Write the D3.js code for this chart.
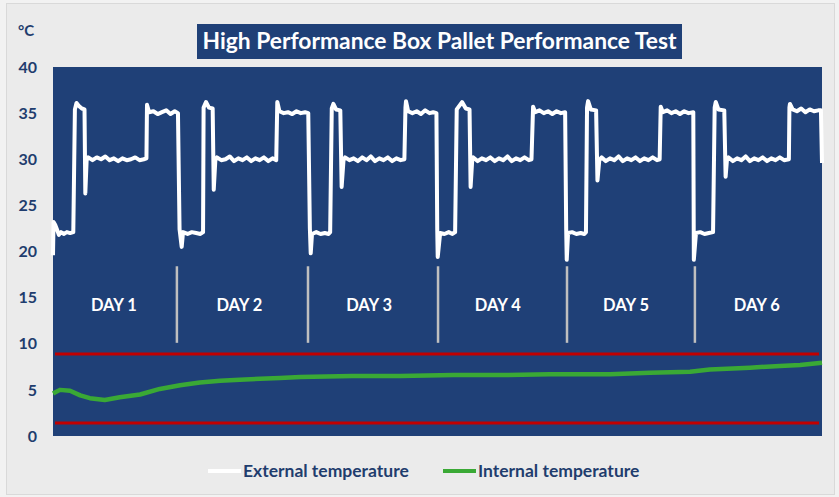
<!DOCTYPE html>
<html>
<head>
<meta charset="utf-8">
<script src="https://cdn.jsdelivr.net/npm/d3@7"></script>
<style>
body { margin: 0; background: #f2f2f2; }
svg { display: block; font-family: Lato, "Open Sans", sans-serif; font-weight: bold; }
</style>
</head>
<body>
<div id="chart"></div>
<script>
// data (x = hours since start, y = degC)
var external = [
  [0.0,19.6],[0.1,23.2],[0.4,22.9],[0.8,22.3],[1.1,21.8],[1.5,22.1],[2.0,21.9],[2.6,22.1],[3.2,22.0],[3.8,22.1],
  [4.1,35.4],[4.4,36.1],[4.8,35.8],[5.4,35.5],[5.9,35.4],[6.05,26.3],[6.3,29.9],[6.6,30.2],[7.4,29.9],[8.2,30.2],
  [9.0,30.0],[9.8,30.3],[10.6,29.9],[11.4,30.1],[12.2,29.8],[13.0,30.1],[13.8,29.9],[14.6,30.0],[15.4,30.2],[16.2,29.9],
  [17.0,30.0],[17.5,30.1],[17.6,35.9],[18.0,35.1],[18.8,35.2],[19.6,34.9],[20.4,35.1],[21.2,35.3],[22.0,34.9],[22.8,35.2],
  [23.4,35.0],[23.7,22.4],[24.1,20.5],[24.35,22.1],[25.2,21.9],[26.0,22.1],[26.8,22.0],[27.6,21.9],[28.1,22.1],
  [28.2,35.6],[28.65,36.2],[29.2,35.6],[29.9,35.5],[30.1,26.7],[30.4,29.9],[30.7,30.2],[31.5,29.9],[32.3,30.0],[33.1,30.3],
  [33.9,29.8],[34.7,30.1],[35.5,29.9],[36.3,30.2],[37.1,29.8],[37.9,30.1],[38.7,29.9],[39.5,30.2],[40.3,29.8],[41.1,30.1],
  [41.8,29.9],[42.0,36.2],[42.4,35.2],[43.2,35.0],[44.0,35.1],[44.8,34.9],[45.6,35.2],[46.4,35.0],[47.2,35.1],[47.8,35.0],
  [48.1,22.5],[48.26,19.8],[48.5,21.9],[49.3,22.1],[50.1,21.9],[50.9,22.0],[51.6,21.9],[51.9,22.1],
  [52.2,35.5],[52.5,36.0],[53.0,35.4],[53.8,35.3],[54.05,27.0],[54.4,29.9],[54.7,30.2],[55.5,29.9],[56.3,30.1],[57.1,29.8],
  [57.9,30.2],[58.7,29.9],[59.5,30.3],[60.3,29.8],[61.1,30.1],[61.9,29.9],[62.7,30.2],[63.5,29.8],[64.3,30.1],[65.1,29.9],
  [65.8,30.0],[66.0,35.6],[66.1,36.3],[66.5,35.2],[67.3,35.0],[68.1,35.2],[68.9,34.9],[69.7,35.3],[70.5,35.0],[71.2,35.1],
  [71.8,35.0],[71.95,22.4],[72.04,19.4],[72.5,22.0],[73.3,21.9],[74.1,22.1],[74.8,21.9],[75.3,22.1],
  [75.6,35.4],[76.6,36.2],[77.3,35.5],[78.0,35.4],[78.2,27.0],[78.5,29.9],[78.7,30.2],[79.5,29.8],[80.3,30.1],[81.1,29.9],
  [81.9,30.2],[82.7,29.8],[83.5,30.1],[84.3,29.9],[85.1,30.3],[85.9,29.8],[86.7,30.1],[87.5,29.9],[88.3,30.2],[89.1,29.9],
  [89.6,30.0],[89.9,35.7],[90.3,35.1],[91.1,35.3],[91.9,35.0],[92.7,35.2],[93.5,34.9],[94.3,35.2],[95.1,35.0],[95.9,35.1],
  [96.1,22.3],[96.2,19.1],[96.45,22.0],[97.2,22.1],[98.0,21.9],[98.8,22.0],[99.5,21.9],[99.8,22.1],
  [100.0,35.6],[100.2,36.3],[100.7,35.4],[101.7,35.3],[101.95,27.7],[102.3,29.9],[102.75,30.2],[103.5,29.8],[104.3,30.1],[105.1,29.9],
  [105.9,30.3],[106.7,29.8],[107.5,30.1],[108.3,29.9],[109.1,30.2],[109.9,29.8],[110.7,30.1],[111.5,29.9],[112.3,30.2],[113.1,29.9],
  [113.6,30.0],[113.8,35.7],[114.2,35.1],[115.0,35.3],[115.8,35.0],[116.6,35.2],[117.4,34.9],[118.2,35.2],[119.0,35.0],[119.9,35.1],
  [120.0,19.1],[120.4,22.0],[121.2,22.1],[122.0,21.9],[122.8,22.0],[123.6,22.1],
  [123.9,35.6],[124.1,36.2],[124.6,35.4],[125.7,35.3],[125.95,28.1],[126.2,29.9],[126.5,30.2],[127.3,29.8],[128.1,30.1],[128.9,29.9],
  [129.7,30.3],[130.5,29.8],[131.3,30.1],[132.1,29.9],[132.9,30.2],[133.7,29.8],[134.5,30.1],[135.3,29.9],[136.1,30.2],[136.9,29.9],
  [137.8,30.0],[137.9,35.6],[138.0,36.0],[138.5,35.4],[139.3,35.2],[140.1,35.5],[140.9,35.1],[141.7,35.4],[142.5,35.2],[143.3,35.3],
  [143.8,35.3],[144.0,29.6]
];

var internal = [
  [0,4.6],[1.3,5.0],[3.2,4.9],[5.1,4.4],[6.9,4.1],[9.7,3.9],[12.5,4.2],[16.3,4.5],[20,5.1],[23.8,5.5],
  [27.5,5.8],[31.3,6.0],[35,6.1],[38.8,6.2],[42.5,6.3],[46.3,6.4],[56,6.5],[65,6.5],[75,6.6],[83.7,6.6],
  [93,6.7],[104.3,6.7],[111.8,6.86],[119.3,6.97],[123,7.2],[130.5,7.4],[136.1,7.6],[139.9,7.7],[144,7.95]
];

var limits = [1.4, 8.9];
var dayLines = [23.2, 47.75, 72.1, 96.25, 120.2];
var dayLabels = ["DAY 1", "DAY 2", "DAY 3", "DAY 4", "DAY 5", "DAY 6"];
var dayCenters = [11.4, 34.9, 59.2, 83.3, 107.3, 131.8];
var yTicks = [0, 5, 10, 15, 20, 25, 30, 35, 40];

var W = 839, H = 497;
var margin = {top: 67, right: 17, bottom: 61, left: 53};
var w = W - margin.left - margin.right;
var h = H - margin.top - margin.bottom;

var navy = "#1f4077", txt = "#1f3d6e";

var svg = d3.select("#chart").append("svg")
  .attr("width", W)
  .attr("height", H);

// chart frame
svg.append("rect")
  .attr("x", 6.5).attr("y", 3.5)
  .attr("width", 828).attr("height", 491)
  .attr("fill", "#ebebeb")
  .attr("stroke", "#d9d9d9");

var x = d3.scaleLinear().domain([0, 144]).range([0, w]);
var y = d3.scaleLinear().domain([0, 40]).range([h, 0]);

var g = svg.append("g")
  .attr("transform", "translate(" + margin.left + "," + margin.top + ")");

g.append("rect")
  .attr("width", w).attr("height", h)
  .attr("fill", navy);

// y labels
var yAxis = g.append("g")
  .attr("transform", "translate(-16,0)")
  .call(d3.axisLeft(y).tickValues(yTicks).tickSize(0).tickPadding(0));
yAxis.select(".domain").remove();
yAxis.selectAll("text")
  .attr("fill", txt)
  .style("font-size", "16px")
  .style("font-family", "Lato, sans-serif")
  .style("font-weight", "bold");

svg.append("text")
  .attr("x", 18).attr("y", 36)
  .attr("fill", txt)
  .style("font-size", "15px")
  .text("°C");

// limit lines
g.selectAll(".limit")
  .data(limits)
  .enter().append("line")
  .attr("class", "limit")
  .attr("x1", 2).attr("x2", w - 3)
  .attr("y1", function(d) { return y(d); })
  .attr("y2", function(d) { return y(d); })
  .attr("stroke", "#c00000")
  .attr("stroke-width", 3);

// day separators
g.selectAll(".day")
  .data(dayLines)
  .enter().append("line")
  .attr("class", "day")
  .attr("x1", function(d) { return x(d); })
  .attr("x2", function(d) { return x(d); })
  .attr("y1", y(18.4))
  .attr("y2", y(10.1))
  .attr("stroke", "#bfbfbf")
  .attr("stroke-width", 2.5);

g.selectAll(".daylabel")
  .data(dayLabels)
  .enter().append("text")
  .attr("class", "daylabel")
  .attr("x", function(d, i) { return x(dayCenters[i]); })
  .attr("y", y(14.2))
  .attr("dy", "0.35em")
  .attr("text-anchor", "middle")
  .attr("fill", "#ffffff")
  .style("font-size", "16.5px")
  .text(function(d) { return d; });

var line = d3.line()
  .x(function(d) { return x(d[0]); })
  .y(function(d) { return y(d[1]); });

g.append("path")
  .datum(external)
  .attr("d", line)
  .attr("fill", "none")
  .attr("stroke", "#ffffff")
  .attr("stroke-width", 4)
  .attr("stroke-linejoin", "round");

g.append("path")
  .datum(internal)
  .attr("d", line)
  .attr("fill", "none")
  .attr("stroke", "#3aa935")
  .attr("stroke-width", 4.5)
  .attr("stroke-linejoin", "round");

// title
svg.append("rect")
  .attr("x", 197).attr("y", 24)
  .attr("width", 485).attr("height", 35)
  .attr("fill", navy);
var title = svg.append("text")
  .attr("x", 439.5).attr("y", 49)
  .attr("text-anchor", "middle")
  .attr("fill", "#ffffff")
  .style("font-size", "21px")
  .text("High Performance Box Pallet Performance Test");
var tl = title.node().getComputedTextLength();
title.style("font-size", (21 * 474 / tl).toFixed(2) + "px");

// legend
var legend = [
  {name: "External temperature", color: "#ffffff", x: 208},
  {name: "Internal temperature", color: "#3aa935", x: 443}
];
var lg = svg.selectAll(".legend")
  .data(legend)
  .enter().append("g")
  .attr("class", "legend")
  .attr("transform", function(d) { return "translate(" + d.x + ",471)"; });
lg.append("line")
  .attr("x1", 0).attr("x2", 33)
  .attr("stroke", function(d) { return d.color; })
  .attr("stroke-width", 4);
lg.append("text")
  .attr("x", 35)
  .attr("dy", "0.35em")
  .attr("fill", txt)
  .style("font-size", "17.5px")
  .text(function(d) { return d.name; });
</script>
</body>
</html>
